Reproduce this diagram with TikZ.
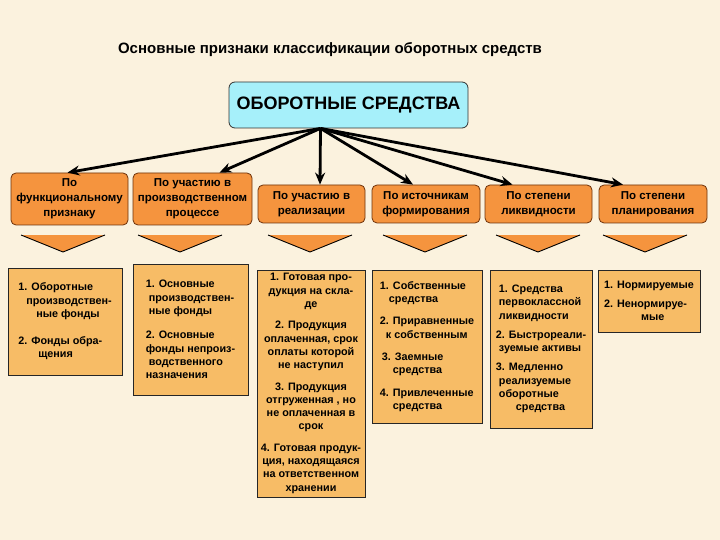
\documentclass[tikz,border=0pt]{standalone}
\usepackage{fontspec}
\setmainfont{Liberation Sans}
\usepackage{tikz}
\usetikzlibrary{arrows.meta}
\definecolor{bgcream}{RGB}{251,242,222}
\definecolor{maincyan}{RGB}{166,240,250}
\definecolor{headorange}{RGB}{245,148,62}
\definecolor{listorange}{RGB}{247,188,102}
\definecolor{headedge}{RGB}{110,50,10}

\newcommand{\pointer}[1]{%
  \fill[headorange] (#1-42,235) -- (#1+42,235) -- (#1,252) -- cycle;
  \draw[line width=0.9pt] (#1-42,235) -- (#1,252) -- (#1+42,235);}

\tikzset{
  head/.style={draw=headedge,fill=headorange,rounded corners=5pt,line width=0.8pt,
    align=center,inner sep=1pt,font=\bfseries\fontsize{11.5}{15}\selectfont},
  list/.style={draw=black!85,fill=listorange,line width=0.9pt,
    inner sep=2pt,font=\bfseries\fontsize{10.8}{13.3}\selectfont},
  link/.style={line width=2.8pt,-{Stealth[length=12pt,width=10pt]}}
}

\begin{document}
\begin{tikzpicture}[x=1pt,y=-1pt]
  \fill[bgcream] (0,0) rectangle (720,540);
  \useasboundingbox (0,0) rectangle (720,540);

  \node[font=\bfseries\fontsize{15}{18}\selectfont] (title) at (330,50)
    {Основные признаки классификации оборотных средств};

  \node[draw=black!80,fill=maincyan,rounded corners=6pt,line width=0.8pt,
    minimum width=239pt,minimum height=46pt,
    font=\bfseries\fontsize{18}{21}\selectfont] (main) at (348.5,105) {ОБОРОТНЫЕ СРЕДСТВА};
  \coordinate (hub) at ([xshift=-28pt]main.south);

  \node[head,minimum width=117pt,minimum height=52pt] (h1) at (69.5,199)
    {По\\функциональному\\признаку};
  \node[head,minimum width=119pt,minimum height=52pt] (h2) at (192.5,199)
    {По участию в\\производственном\\процессе};
  \node[head,minimum width=107pt,minimum height=38pt] (h3) at (311.5,204)
    {По участию в\\реализации};
  \node[head,minimum width=108pt,minimum height=38pt] (h4) at (426,204)
    {По источникам\\формирования};
  \node[head,minimum width=107pt,minimum height=38pt] (h5) at (538.5,204)
    {По степени\\ликвидности};
  \node[head,minimum width=108pt,minimum height=38pt] (h6) at (653,204)
    {По степени\\планирования};

  \draw[link] (hub) -- ([xshift=-2pt]h1.north);
  \draw[link] (hub) -- ([xshift=27pt]h2.north);
  \draw[link] (hub) -- ([xshift=8.5pt]h3.north);
  \draw[link] (hub) -- ([xshift=-13pt]h4.north);
  \draw[link] (hub) -- ([xshift=-26pt]h5.north);
  \draw[link] (hub) -- ([xshift=-30pt]h6.north);

  \pointer{63}
  \pointer{180}
  \pointer{310}
  \pointer{425}
  \pointer{538}
  \pointer{645}

  \node[list,align=left,minimum width=114pt,minimum height=107pt] (l1) at (65,321.5)
    {1. Оборотные\\\hspace*{8pt}производствен-\\\hspace*{18pt}ные фонды\\[14pt]
     2. Фонды обра-\\\hspace*{20pt}щения};
  \node[list,align=left,minimum width=115pt,minimum height=131pt] (l2) at (190.5,329.5)
    {1. Основные\\\hspace*{3pt}производствен-\\\hspace*{3pt}ные фонды\\[11pt]
     2. Основные\\фонды непроиз-\\\hspace*{3pt}водственного\\назначения};
  \node[list,align=center,minimum width=108pt,minimum height=227pt] (l3) at (311,383.5)
    {1. Готовая про-\\дукция на скла-\\де\\[8pt]
     2. Продукция\\оплаченная, срок\\оплаты которой\\не наступил\\[8pt]
     3. Продукция\\отгруженная , но\\не оплаченная в\\срок\\[8pt]
     4. Готовая продук-\\ция, находящаяся\\на ответственном\\хранении};
  \node[list,align=left,minimum width=110pt,minimum height=153pt] (l4) at (427,346.5)
    {1. Собственные\\\hspace*{9pt}средства\\[9pt]
     2. Приравненные\\\hspace*{6pt}к собственным\\[9pt]
     \hspace*{2pt}3. Заемные\\\hspace*{13pt}средства\\[9pt]
     4. Привлеченные\\\hspace*{13pt}средства};
  \node[list,align=left,minimum width=102pt,minimum height=158pt] (l5) at (541,349)
    {\hspace*{3pt}1. Средства\\\hspace*{3pt}первоклассной\\\hspace*{3pt}ликвидности\\[6pt]
     2. Быстрореали-\\\hspace*{3pt}зуемые активы\\[6pt]
     3. Медленно\\\hspace*{3pt}реализуемые\\\hspace*{3pt}оборотные\\\hspace*{20pt}средства};
  \node[list,align=left,minimum width=102pt,minimum height=62pt] (l6) at (649,301)
    {1. Нормируемые\\[5pt]2. Ненормируе-\\\hspace*{37pt}мые};
\end{tikzpicture}
\end{document}
